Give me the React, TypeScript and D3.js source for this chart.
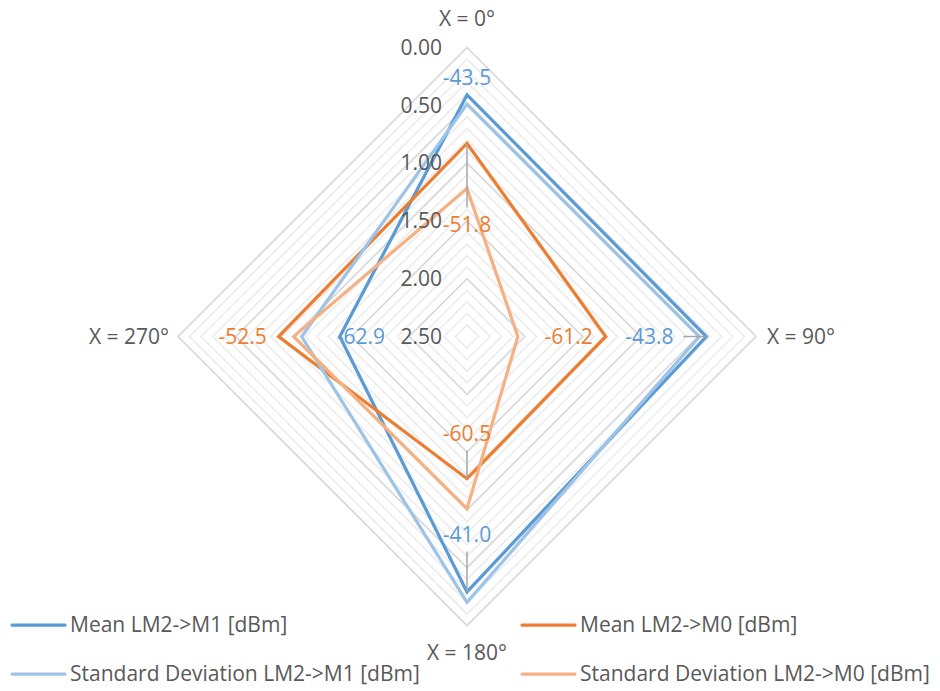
import React from "react";
import * as d3 from "d3";

const categories = ["X = 0°", "X = 90°", "X = 180°", "X = 270°"];
const seriesNames = [
  "Mean LM2->M1 [dBm]",
  "Mean LM2->M0 [dBm]",
  "Standard Deviation LM2->M1 [dBm]",
  "Standard Deviation LM2->M0 [dBm]",
];
const meanM1 = [0.41, 0.43, 0.29, 1.4];
const meanM0 = [0.83, 1.3, 1.27, 0.87];
const stdM1 = [0.49, 0.49, 0.2, 1.07];
const stdM0 = [1.22, 2.06, 1.01, 1.0];
const meanM1Labels = ["-43.5", "-43.8", "-41.0", "-62.9"];
const meanM0Labels = ["-51.8", "-61.2", "-60.5", "-52.5"];
const tickValues = [0, 0.5, 1, 1.5, 2, 2.5];

// layout / style (not data)
const W = 940;
const H = 691;
const CX = 467;
const CY = 336.5;
const R = 289;
const FONT = "'Open Sans', 'Liberation Sans', sans-serif";
const FS = 21;
const TEXT = "#595959";
const colors = ["#5B9BD5", "#ED7D31", "#9DC3E6", "#F4B183"];
const labelOffsetsM1 = [17, -57, -57.5, -21];
const labelOffsetsM0 = [-81, -37, -45, 36];
const leadersM1 = [false, true, true, false];
const leadersM0 = [true, false, true, false];

export default function App() {
  const series = [meanM1, meanM0, stdM1, stdM0];
  const n = categories.length;
  const angle = (i: number) => (i * 2 * Math.PI) / n;
  const r = d3.scaleLinear().domain([0, 2.5]).range([R, 0]);
  const pt = (i: number, rad: number): [number, number] => [
    CX + rad * Math.sin(angle(i)),
    CY - rad * Math.cos(angle(i)),
  ];

  const line = d3
    .lineRadial<number>()
    .angle((_, i) => angle(i))
    .radius((d) => r(d))
    .curve(d3.curveLinearClosed);

  const gridVals = d3.range(0, 25).map((k) => k / 10);
  const minor = gridVals.filter((v) => Math.round(v * 10) % 5 !== 0);
  const major = gridVals.filter((v) => Math.round(v * 10) % 5 === 0);
  const gridPath = (v: number) => {
    const rad = r(v);
    return (
      d3
        .range(n)
        .map((i) => pt(i, rad))
        .map((p, k) => (k === 0 ? "M" : "L") + p[0] + "," + p[1])
        .join("") + "Z"
    );
  };

  const labelSets = [
    { vals: meanM1, labels: meanM1Labels, offs: labelOffsetsM1, leaders: leadersM1, color: colors[0] },
    { vals: meanM0, labels: meanM0Labels, offs: labelOffsetsM0, leaders: leadersM0, color: colors[1] },
  ];

  const catPos = (i: number) => {
    const [x, y] = pt(i, R);
    if (i === 0) return { x, y: y - 29, anchor: "middle" };
    if (i === 1) return { x: x + 11, y, anchor: "start" };
    if (i === 2) return { x, y: y + 27, anchor: "middle" };
    return { x: x - 9, y, anchor: "end" };
  };

  const legendItems = seriesNames.map((name, i) => ({
    name,
    color: colors[i],
    x: i % 2 === 0 ? 12 : 522,
    y: i < 2 ? 625 : 674,
  }));

  return (
    <svg
      width={W}
      height={H}
      style={{ position: "absolute", left: 0, top: 0, background: "#fff" }}
      fontFamily={FONT}
    >
      <rect width={W} height={H} fill="#fff" />
      <g>
        {minor.map((v) => (
          <path key={"mi" + v} d={gridPath(v)} fill="none" stroke="#EDEDED" strokeWidth={1.75} />
        ))}
        {major.map((v) => (
          <path key={"ma" + v} d={gridPath(v)} fill="none" stroke="#D9D9D9" strokeWidth={1.75} />
        ))}
      </g>
      {categories.map((c, i) => {
        const p = catPos(i);
        return (
          <text
            key={c}
            x={p.x}
            y={p.y}
            dy="0.35em"
            textAnchor={p.anchor as any}
            fontSize={FS}
            fill={TEXT}
          >
            {c}
          </text>
        );
      })}
      <g transform={`translate(${CX},${CY})`}>
        {series.map((s, k) => (
          <path
            key={"s" + k}
            d={line(s) || ""}
            fill="none"
            stroke={colors[k]}
            strokeWidth={3.25}
            strokeLinejoin="miter"
          />
        ))}
      </g>
      {tickValues.map((v) => (
        <text
          key={"t" + v}
          x={CX - 25}
          y={CY - r(v)}
          dy="0.35em"
          textAnchor="end"
          fontSize={FS}
          fill={TEXT}
        >
          {v.toFixed(2)}
        </text>
      ))}
      {labelSets.map((set, k) =>
        set.vals.map((v, i) => {
          const vr = r(v);
          const lr = vr + set.offs[i];
          const [lx, ly] = pt(i, lr);
          const ext = i % 2 === 0 ? 17 : 34;
          const sign = set.offs[i] < 0 ? 1 : -1;
          const [ax, ay] = pt(i, lr + sign * ext);
          const [bx, by] = pt(i, vr);
          return (
            <g key={"l" + k + i}>
              {set.leaders[i] && (
                <line x1={ax} y1={ay} x2={bx} y2={by} stroke="#A6A6A6" strokeWidth={1.5} />
              )}
              <text x={lx} y={ly} dy="0.35em" textAnchor="middle" fontSize={FS} fill={set.color}>
                {set.labels[i]}
              </text>
            </g>
          );
        })
      )}
      {legendItems.map((it) => (
        <g key={it.name}>
          <line
            x1={it.x}
            x2={it.x + 53}
            y1={it.y}
            y2={it.y}
            stroke={it.color}
            strokeWidth={3.25}
            strokeLinecap="round"
          />
          <text x={it.x + 58} y={it.y} dy="0.35em" fontSize={FS} fill={TEXT}>
            {it.name}
          </text>
        </g>
      ))}
    </svg>
  );
}
